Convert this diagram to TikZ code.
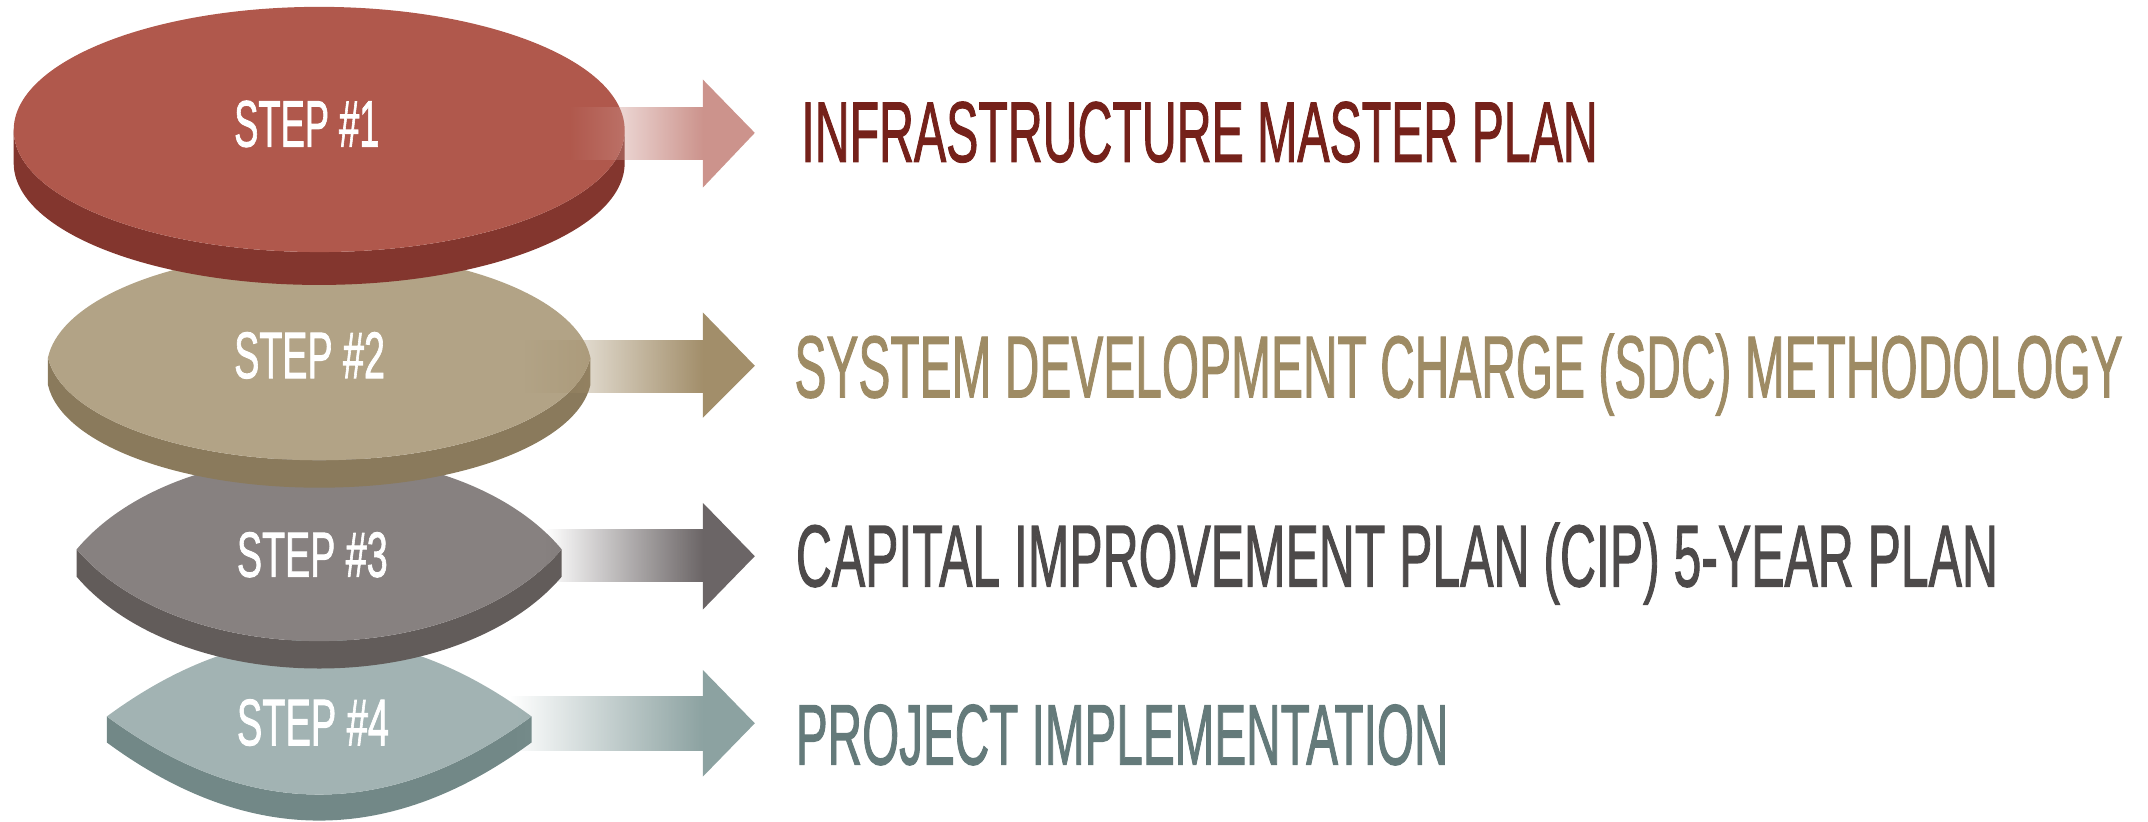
\documentclass[tikz,border=0pt]{standalone}
\usepackage{fontspec}
\setmainfont{Liberation Sans}[FakeBold=1.6]
\usetikzlibrary{fadings}
\definecolor{cAtop}{HTML}{B0584C}\definecolor{cAside}{HTML}{83362E}\definecolor{cAarr}{HTML}{CC938C}\definecolor{cAtxt}{HTML}{75211A}
\definecolor{cBtop}{HTML}{B2A386}\definecolor{cBside}{HTML}{8A7A5C}\definecolor{cBarr}{HTML}{A28E6A}\definecolor{cBtxt}{HTML}{9E8B64}
\definecolor{cCtop}{HTML}{878180}\definecolor{cCside}{HTML}{625C5A}\definecolor{cCarr}{HTML}{6B6566}\definecolor{cCtxt}{HTML}{4D4A4A}
\definecolor{cDtop}{HTML}{A2B3B3}\definecolor{cDside}{HTML}{728887}\definecolor{cDarr}{HTML}{8CA2A1}\definecolor{cDtxt}{HTML}{647A7A}
\newcommand\fitt[3]{\resizebox{#1}{#2}{\raisebox{0pt}[\fontcharht\font`X][0pt]{#3}}}
% disk: cx, cy, rx, ry top, ry bottom, pointiness p (0 ellipse, 1 parabola), thickness, top colour, side colour
\newcommand\disk[9]{%
 \pgfmathsetmacro\ax{(1-#6*0.333)*#3}% control 1 x offset
 \pgfmathsetmacro\ayf{0.552+#6*0.115}% control 1 y factor
 \pgfmathsetmacro\bx{(0.552-#6*0.219)*#3}% control 2 x offset
 \fill[#9] ({#1-#3},#2) -- ({#1-#3},{#2+#7})
   .. controls ({#1-\ax},{#2+#7+\ayf*#5}) and ({#1-\bx},{#2+#7+#5}) .. (#1,{#2+#7+#5})
   .. controls ({#1+\bx},{#2+#7+#5}) and ({#1+\ax},{#2+#7+\ayf*#5}) .. ({#1+#3},{#2+#7})
   -- ({#1+#3},#2)
   .. controls ({#1+\ax},{#2+\ayf*#5}) and ({#1+\bx},{#2+#5}) .. (#1,{#2+#5})
   .. controls ({#1-\bx},{#2+#5}) and ({#1-\ax},{#2+\ayf*#5}) .. cycle;
 \fill[#8] ({#1-#3},#2)
   .. controls ({#1-\ax},{#2-\ayf*#4}) and ({#1-\bx},{#2-#4}) .. (#1,{#2-#4})
   .. controls ({#1+\bx},{#2-#4}) and ({#1+\ax},{#2-\ayf*#4}) .. ({#1+#3},#2)
   .. controls ({#1+\ax},{#2+\ayf*#5}) and ({#1+\bx},{#2+#5}) .. (#1,{#2+#5})
   .. controls ({#1-\bx},{#2+#5}) and ({#1-\ax},{#2+\ayf*#5}) .. cycle;
}
% arrow: x start, shaft top, shaft bottom, head top, head bottom, tip y, colour
\newcommand\blockarrow[7]{%
 \fill[#7, path fading=west] (#1,#2) rectangle (513,#3);
 \fill[#7] (513,#4) -- (551,#6) -- (513,#5) -- cycle;
}
\tikzset{
 txt/.style={anchor=south west, inner sep=0pt, outer sep=0pt},
 lbl/.style={anchor=south, inner sep=0pt, outer sep=0pt, text=white}
}
\begin{document}
\begin{tikzpicture}[x=0.01cm, y=-0.01cm]
\useasboundingbox (0,0) rectangle (1568,600);
\disk{233}{523}{155}{57}{57}{1.0}{19}{cDtop}{cDside}
\disk{233}{401}{177}{68}{67}{0.6}{20}{cCtop}{cCside}
\disk{233}{261}{198}{77}{75}{0.15}{20}{cBtop}{cBside}
\disk{233}{95}{223}{90}{89}{0}{24}{cAtop}{cAside}
\blockarrow{415}{78}{117}{58}{137}{97}{cAarr}
\blockarrow{383}{248}{287}{228}{305}{267}{cBarr}
\blockarrow{398}{386}{425}{367}{445}{406}{cCarr}
\blockarrow{372}{508}{548}{489}{567}{528}{cDarr}
\node[lbl] (s1) at (224,107) {\fitt{1.06cm}{0.33cm}{STEP \#1}};
\node[lbl] (s2) at (226,276) {\fitt{1.10cm}{0.33cm}{STEP \#2}};
\node[lbl] (s3) at (228,421) {\fitt{1.10cm}{0.32cm}{STEP \#3}};
\node[lbl] (s4) at (228.5,544) {\fitt{1.11cm}{0.33cm}{STEP \#4}};
\node[txt, text=cAtxt] (t1) at (585,118) {\fitt{5.81cm}{0.43cm}{INFRASTRUCTURE MASTER PLAN}};
\node[txt, text=cBtxt] (t2) at (580,290) {\fitt{9.69cm}{0.44cm}{SYSTEM DEVELOPMENT CHARGE (SDC) METHODOLOGY}};
\node[txt, text=cCtxt] (t3) at (581,428) {\fitt{8.77cm}{0.44cm}{CAPITAL IMPROVEMENT PLAN (CIP) 5-YEAR PLAN}};
\node[txt, text=cDtxt] (t4) at (581,558) {\fitt{4.76cm}{0.43cm}{PROJECT IMPLEMENTATION}};
\end{tikzpicture}
\end{document}
